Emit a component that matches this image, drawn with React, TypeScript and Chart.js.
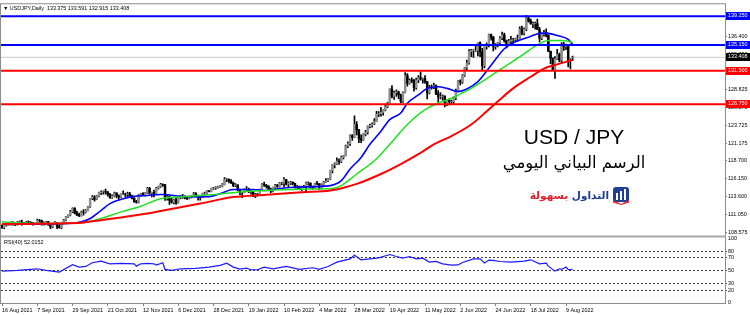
import React, { useEffect, useRef } from 'react';
import { Chart, registerables } from 'chart.js';

Chart.register(...registerables);

// ---------- data ----------
const xTickIndex = [0, 16, 32, 48, 64, 80, 96, 112, 128, 144, 160, 176, 192, 208, 224, 240, 256];
const xTickLabels = ['16 Aug 2021', '7 Sep 2021', '29 Sep 2021', '21 Oct 2021', '12 Nov 2021', '6 Dec 2021', '28 Dec 2021', '19 Jan 2022', '10 Feb 2022', '4 Mar 2022', '28 Mar 2022', '19 Apr 2022', '11 May 2022', '2 Jun 2022', '24 Jun 2022', '18 Jul 2022', '9 Aug 2022'];

const opens = [
  109.55, 109.23, 109.6, 109.77, 109.75, 109.78, 109.72, 109.68, 110.0, 110.05,
  109.84, 109.9, 110.02, 110.0, 109.92, 109.7, 109.83, 110.27, 110.25, 109.72,
  109.92, 110.05, 109.7, 109.35, 109.72, 109.95, 109.4, 109.23, 109.78, 110.3,
  110.75, 111.0, 111.5, 111.97, 111.3, 111.05, 110.95, 111.45, 111.4, 111.65,
  112.2, 113.35, 113.6, 113.25, 113.7, 114.2, 114.3, 114.35, 114.3, 113.95,
  113.5, 113.7, 114.15, 113.8, 113.55, 114.0, 114.0, 113.95, 114.05, 113.75,
  113.4, 112.95, 112.85, 113.9, 114.05, 113.9, 114.15, 114.8, 114.1, 114.25,
  114.0, 114.85, 115.1, 115.4, 115.35, 113.4, 113.6, 113.15, 112.8, 113.2,
  112.8, 113.45, 113.55, 113.7, 113.5, 113.4, 113.55, 113.7, 114.05, 113.7,
  113.7, 113.6, 114.1, 114.1, 114.45, 114.35, 114.8, 114.85, 114.95, 115.05,
  115.1, 115.35, 116.1, 116.1, 115.85, 115.55, 115.2, 115.3, 114.6, 114.2,
  114.2, 114.6, 114.6, 114.3, 114.35, 113.7, 113.95, 113.9, 114.65, 115.35,
  115.25, 115.1, 114.7, 114.4, 114.95, 115.25, 115.1, 115.55, 115.55, 116.05,
  115.4, 115.55, 115.65, 115.5, 114.95, 115.05, 114.75, 115.05, 115.05, 115.55,
  115.55, 115.0, 114.9, 115.5, 115.45, 114.8, 115.3, 115.7, 115.85, 116.1,
  117.3, 118.15, 118.3, 118.7, 118.6, 119.2, 119.45, 120.8, 121.15, 122.3,
  122.05, 123.85, 123.1, 121.85, 121.7, 122.5, 122.8, 123.6, 123.75, 123.95,
  124.3, 125.35, 125.4, 125.6, 125.9, 126.4, 126.95, 128.9, 127.85, 128.4,
  128.5, 128.1, 127.2, 128.4, 130.8, 129.7, 130.15, 130.1, 129.1, 130.2,
  130.55, 130.3, 130.4, 129.95, 128.35, 129.2, 129.1, 129.4, 128.2, 127.8,
  127.85, 127.9, 126.85, 127.3, 127.1, 127.1, 127.6, 128.7, 130.05, 129.9,
  130.85, 131.9, 132.6, 134.25, 134.4, 134.4, 134.4, 135.45, 134.2, 132.2,
  134.95, 135.05, 136.65, 136.25, 134.95, 135.2, 135.45, 136.15, 136.6, 135.75,
  135.2, 135.7, 135.85, 135.9, 136.05, 136.1, 137.45, 136.85, 137.4, 138.95,
  138.55, 138.15, 138.2, 138.2, 137.35, 136.1, 136.7, 136.95, 136.55, 134.25,
  133.3, 131.6, 133.2, 133.85, 133.0, 135.0, 134.95, 135.1, 132.9, 133.375,
];
const highs = [
  109.65, 109.8, 109.9, 110.0, 110.05, 110.1, 109.85, 110.1, 110.2, 110.3,
  110.0, 110.15, 110.2, 110.1, 110.0, 109.9, 110.45, 110.4, 110.3, 110.05,
  110.15, 110.15, 109.75, 109.8, 110.1, 109.95, 109.7, 109.85, 110.4, 110.8,
  111.05, 111.68, 112.05, 112.1, 111.6, 111.3, 111.6, 111.8, 111.8, 112.25,
  113.4, 113.8, 113.8, 113.8, 114.3, 114.45, 114.45, 114.7, 114.4, 114.1,
  113.9, 114.3, 114.2, 113.9, 114.05, 114.45, 114.15, 114.3, 114.25, 113.85,
  113.5, 113.1, 113.95, 114.1, 114.2, 114.2, 114.95, 114.95, 114.3, 114.55,
  114.95, 115.15, 115.52, 115.45, 115.35, 113.9, 113.75, 113.5, 113.3, 113.4,
  113.6, 113.8, 113.95, 113.7, 113.6, 113.7, 113.8, 114.25, 114.2, 113.85,
  113.75, 114.15, 114.3, 114.5, 114.5, 114.85, 114.95, 115.05, 115.15, 115.2,
  115.5, 116.35, 116.2, 116.15, 116.05, 115.7, 115.5, 115.3, 114.7, 114.3,
  114.75, 115.05, 114.85, 114.55, 114.35, 114.1, 114.1, 114.7, 115.5, 115.7,
  115.4, 115.2, 114.85, 115.0, 115.4, 115.4, 115.65, 115.7, 116.35, 116.1,
  115.75, 115.8, 115.75, 115.55, 115.25, 115.15, 115.15, 115.25, 115.7, 115.75,
  115.6, 115.15, 115.55, 115.8, 115.5, 115.45, 115.8, 116.2, 116.2, 117.35,
  118.2, 118.45, 119.15, 119.0, 119.4, 119.5, 120.95, 121.4, 122.4, 122.45,
  125.1, 124.3, 123.2, 122.4, 122.6, 123.05, 123.7, 123.95, 124.1, 124.7,
  125.75, 125.7, 126.3, 125.95, 126.65, 127.05, 128.95, 129.4, 128.6, 128.8,
  128.6, 128.2, 128.5, 131.25, 131.1, 130.35, 130.5, 130.3, 130.45, 130.8,
  131.35, 130.45, 130.8, 130.0, 129.45, 129.5, 129.75, 129.5, 128.7, 128.4,
  128.1, 127.95, 127.4, 127.5, 127.35, 127.8, 128.9, 130.1, 130.2, 130.95,
  132.0, 133.0, 134.5, 134.55, 134.5, 135.2, 135.45, 135.6, 134.7, 135.0,
  135.45, 136.7, 136.7, 136.4, 135.35, 135.55, 136.35, 137.0, 136.85, 135.85,
  135.95, 136.4, 136.1, 136.15, 136.55, 137.75, 137.85, 137.6, 139.38, 139.1,
  138.85, 138.4, 138.4, 138.85, 137.65, 136.8, 137.25, 137.45, 136.6, 134.3,
  133.3, 133.5, 134.55, 134.0, 135.5, 135.55, 135.3, 135.2, 133.2, 133.591,
];
const lows = [
  109.12, 109.1, 109.45, 109.6, 109.6, 109.6, 109.5, 109.6, 109.85, 109.6,
  109.7, 109.75, 109.9, 109.85, 109.6, 109.7, 109.8, 110.0, 109.6, 109.6,
  109.85, 109.55, 109.1, 109.25, 109.7, 109.1, 109.15, 109.1, 109.75, 110.2,
  110.7, 110.9, 111.35, 111.2, 110.95, 110.8, 110.85, 111.0, 111.3, 111.6,
  112.1, 113.2, 113.0, 113.2, 113.6, 113.9, 114.0, 114.0, 113.7, 113.4,
  113.4, 113.6, 113.45, 113.25, 113.5, 113.9, 113.6, 113.6, 113.65, 113.3,
  112.8, 112.7, 112.75, 113.7, 113.8, 113.75, 114.1, 114.0, 113.6, 113.6,
  113.95, 114.7, 114.95, 115.1, 113.1, 113.15, 112.55, 112.7, 112.6, 112.55,
  112.7, 113.3, 113.4, 113.3, 113.2, 113.3, 113.45, 113.6, 113.6, 113.15,
  113.15, 113.55, 113.95, 114.0, 114.3, 114.3, 114.65, 114.65, 114.85, 114.95,
  115.0, 115.3, 115.75, 115.6, 115.5, 115.05, 115.05, 114.45, 113.9, 113.5,
  114.15, 114.4, 114.2, 114.0, 113.65, 113.5, 113.7, 113.8, 114.6, 115.1,
  114.85, 114.6, 114.2, 114.3, 114.8, 114.95, 115.0, 115.3, 115.0, 115.25,
  114.95, 115.35, 115.3, 114.85, 114.8, 114.7, 114.5, 114.9, 114.4, 115.25,
  114.85, 114.7, 114.85, 115.35, 114.65, 114.8, 115.1, 115.65, 115.75, 116.05,
  117.0, 117.7, 118.2, 118.2, 118.45, 119.0, 119.4, 120.6, 120.9, 121.6,
  122.0, 122.4, 121.3, 121.3, 121.6, 122.25, 122.5, 123.4, 123.5, 123.85,
  124.3, 125.0, 125.05, 125.2, 125.8, 126.25, 126.9, 127.65, 127.45, 127.85,
  127.55, 126.95, 127.0, 128.35, 129.3, 129.6, 129.8, 128.6, 128.9, 129.8,
  130.15, 129.75, 129.7, 127.5, 128.2, 128.9, 128.95, 128.1, 127.05, 127.5,
  127.3, 126.36, 126.55, 126.65, 126.75, 126.85, 127.4, 128.6, 129.5, 129.7,
  130.7, 131.55, 132.45, 133.5, 133.4, 134.25, 133.6, 133.5, 131.5, 131.9,
  134.55, 134.9, 135.85, 134.3, 134.55, 134.9, 135.1, 135.9, 135.55, 134.75,
  135.1, 135.3, 135.3, 135.6, 135.65, 136.05, 136.6, 136.6, 137.2, 138.4,
  138.1, 137.6, 137.4, 137.35, 135.6, 135.9, 136.4, 136.3, 134.2, 132.5,
  131.6, 130.4, 133.1, 132.75, 132.55, 134.4, 134.5, 132.05, 131.75, 132.915,
];
const closes = [
  109.23, 109.6, 109.77, 109.75, 109.78, 109.72, 109.68, 110.0, 110.05, 109.84,
  109.9, 110.02, 110.0, 109.92, 109.7, 109.83, 110.27, 110.25, 109.72, 109.92,
  110.05, 109.7, 109.35, 109.72, 109.95, 109.4, 109.23, 109.78, 110.3, 110.75,
  111.0, 111.5, 111.97, 111.3, 111.05, 110.95, 111.45, 111.4, 111.65, 112.2,
  113.35, 113.6, 113.25, 113.7, 114.2, 114.3, 114.35, 114.3, 113.95, 113.5,
  113.7, 114.15, 113.8, 113.55, 114.0, 114.0, 113.95, 114.05, 113.75, 113.4,
  112.95, 112.85, 113.9, 114.05, 113.9, 114.15, 114.8, 114.1, 114.25, 114.0,
  114.85, 115.1, 115.4, 115.35, 113.4, 113.6, 113.15, 112.8, 113.2, 112.8,
  113.45, 113.55, 113.7, 113.5, 113.4, 113.55, 113.7, 114.05, 113.7, 113.7,
  113.6, 114.1, 114.1, 114.45, 114.35, 114.8, 114.85, 114.95, 115.05, 115.1,
  115.35, 116.1, 116.1, 115.85, 115.55, 115.2, 115.3, 114.6, 114.2, 114.2,
  114.6, 114.6, 114.3, 114.35, 113.7, 113.95, 113.9, 114.65, 115.35, 115.25,
  115.1, 114.7, 114.4, 114.95, 115.25, 115.1, 115.55, 115.55, 116.05, 115.4,
  115.55, 115.65, 115.5, 114.95, 115.05, 114.75, 115.05, 115.05, 115.55, 115.55,
  115.0, 114.9, 115.5, 115.45, 114.8, 115.3, 115.7, 115.85, 116.1, 117.3,
  118.15, 118.3, 118.7, 118.6, 119.2, 119.45, 120.8, 121.15, 122.3, 122.05,
  123.85, 123.1, 121.85, 121.7, 122.5, 122.8, 123.6, 123.75, 123.95, 124.3,
  125.35, 125.4, 125.6, 125.9, 126.4, 126.95, 128.9, 127.85, 128.4, 128.5,
  128.1, 127.2, 128.4, 130.8, 129.7, 130.15, 130.1, 129.1, 130.2, 130.55,
  130.3, 130.4, 129.95, 128.35, 129.2, 129.1, 129.4, 128.2, 127.8, 127.85,
  127.9, 126.85, 127.3, 127.1, 127.1, 127.6, 128.7, 130.05, 129.9, 130.85,
  131.9, 132.6, 134.25, 134.4, 134.4, 134.4, 135.45, 134.2, 132.2, 134.95,
  135.05, 136.65, 136.25, 134.95, 135.2, 135.45, 136.15, 136.6, 135.75, 135.2,
  135.7, 135.85, 135.9, 136.05, 136.1, 137.45, 136.85, 137.4, 138.95, 138.55,
  138.15, 138.2, 138.2, 137.35, 136.1, 136.7, 136.95, 136.55, 134.25, 133.3,
  131.6, 133.2, 133.85, 133.0, 135.0, 134.95, 135.1, 132.9, 133.0, 133.408,
];

// moving averages: [bar index, price]
const maBlue = [
  [0, 109.74], [14, 109.74], [30, 109.84], [36, 110.07], [40, 110.54], [45, 111.7], [49, 112.65], [55, 113.35],
  [60, 113.67], [66, 113.8], [72, 113.95], [75, 113.9], [81, 113.7], [90, 113.6], [94, 113.62], [99, 114.05],
  [105, 114.65], [114, 114.65], [120, 114.5], [126, 114.8], [136, 115.0], [149, 115.2], [154, 115.9], [158, 117.55],
  [163, 119.2], [167, 121.06], [172, 122.93], [176, 124.57], [181, 125.5], [184, 126.9], [189, 128.07], [193, 129.0],
  [198, 129.24], [202, 129.0], [207, 128.54], [211, 128.9], [216, 129.95], [222, 132.29], [228, 134.62], [232, 135.46],
  [239, 136.26], [245, 136.86], [248, 136.8], [252, 136.5], [257, 135.94], [259, 135.2],
];
const maGreen = [
  [0, 110.07], [8, 109.9], [22, 109.84], [36, 109.93], [45, 110.54], [54, 111.47], [63, 112.27], [72, 113.35],
  [81, 113.6], [90, 113.8], [99, 114.0], [108, 114.3], [120, 114.5], [136, 114.7], [149, 114.75], [154, 115.2],
  [161, 116.85], [169, 118.72], [176, 121.06], [184, 123.87], [192, 125.97], [198, 126.9], [204, 127.6], [210, 128.54],
  [213, 129.0], [219, 130.18], [228, 132.05], [236, 133.69], [243, 135.18], [248, 135.8], [254, 135.8], [259, 135.56],
];
const maRed = [
  [0, 109.74], [26, 109.84], [36, 109.93], [45, 110.3], [54, 110.68], [63, 111.1], [72, 111.6], [90, 112.65],
  [105, 113.57], [120, 113.9], [136, 114.27], [149, 114.5], [161, 115.45], [172, 116.85], [181, 118.26], [189, 119.66],
  [196, 121.06], [204, 122.23], [213, 123.87], [220, 125.74], [225, 127.14], [232, 129.0], [240, 130.65], [246, 131.81],
  [252, 132.4], [259, 133.05],
];
// RSI(40): [bar index, value]
const rsiValues = [
  [0, 49.4], [7, 50.5], [16, 53], [20, 50.5], [26, 47.9], [32, 59.2], [35, 55.6], [38, 56.6], [41, 62.3], [45, 64.8],
  [49, 60.7], [54, 61.5], [60, 60.7], [61, 57.1], [63, 60.7], [66, 61.5], [69, 60.7], [70, 58.7], [73, 62.3], [74, 52],
  [77, 50.5], [81, 53], [88, 53.5], [94, 55.6], [99, 58.2], [102, 61.7], [105, 55.6], [108, 52.6], [111, 54], [113, 51.5],
  [116, 51.5], [119, 55.6], [123, 53], [129, 56.6], [135, 52], [141, 54.6], [144, 52], [148, 56.6], [152, 63.3], [158, 68.4],
  [160, 74], [163, 66.9], [171, 70], [176, 75.1], [179, 72], [182, 69.4], [185, 72], [188, 68.4], [191, 69.4], [194, 63.3],
  [197, 64.3], [200, 60.7], [204, 58.7], [207, 59], [209, 62.8], [214, 68.4], [217, 68.4], [219, 62], [221, 66.5], [223, 66],
  [226, 64.3], [231, 63.3], [237, 64.8], [240, 66.9], [244, 60.7], [247, 61.7], [248, 57.1], [251, 49.4], [253, 53], [254, 52],
  [256, 55.6], [257, 51.5], [259, 52.0],
];

const blueLevels = [139.25, 135.15];
const redLevels = [131.5, 126.75];
const lastPrice = 133.408;
const priceTicks = [108.575, 111.05, 113.6, 116.15, 118.7, 121.175, 123.725, 126.275, 128.825, 131.375, 133.85, 136.4, 138.95];
const rsiTicks = [0, 20, 30, 50, 70, 80, 100];
const rsiLevels = [20, 30, 50, 70, 80];
const titleText = '\u25BC USDJPY,Daily  133.375 133.591 132.915 133.408';
const rsiText = 'RSI(40) 52.0152';

// ---------- view ----------
const X_MIN = -0.454;
const X_MAX = 328.17;
const SMALL_FONT = '"Liberation Sans", Arial, sans-serif';

const levelLine = (v: number, color: string, width: number, order: number) => ({
  type: 'line' as const,
  data: [{ x: X_MIN, y: v }, { x: X_MAX, y: v }],
  borderColor: color,
  borderWidth: width,
  pointRadius: 0,
  yAxisID: 'y',
  order,
});

const overlayPlugin = {
  id: 'mtOverlay',
  afterDraw(chart: any) {
    const { ctx, chartArea: a, scales } = chart;
    const ys = scales.y;
    ctx.save();
    ctx.strokeStyle = '#8c8c8c';
    ctx.lineWidth = 1;
    ctx.strokeRect(a.left - 0.5, a.top - 0.5, a.right - a.left + 1, a.bottom - a.top + 1);
    ctx.fillStyle = '#a8a8a8';
    ctx.fillRect(a.left, ys.bottom - 1, a.right - a.left + 1, 2);

    ctx.font = `5.4px ${SMALL_FONT}`;
    ctx.textBaseline = 'middle';
    ctx.textAlign = 'left';
    const boxes: [number, string][] = [
      ...blueLevels.map((v) => [v, '#0000ff'] as [number, string]),
      ...redLevels.map((v) => [v, '#ff0000'] as [number, string]),
      [lastPrice, '#000000'],
    ];
    for (const [v, c] of boxes) {
      const py = ys.getPixelForValue(v);
      ctx.fillStyle = c;
      ctx.fillRect(a.right + 1, Math.round(py) - 4, 24, 8);
      ctx.fillStyle = '#ffffff';
      ctx.fillText(v.toFixed(3), a.right + 3, Math.round(py));
    }
    ctx.fillStyle = '#000000';
    ctx.fillText(titleText, a.left + 2, a.top + 4);
    ctx.fillText(rsiText, a.left + 3, scales.rsi.top + 6);
    ctx.restore();
  },
};

export default function App() {
  const ref = useRef<HTMLCanvasElement>(null);

  useEffect(() => {
    document.body.style.margin = '0';
    const canvas = ref.current;
    if (!canvas) return;

    const wicks = highs.map((h, i) => ({ x: i, y: [lows[i], h] }));
    const bodies = opens.map((o, i) => ({ x: i, y: [o, closes[i]] }));
    const bodyColors = opens.map((o, i) => (closes[i] >= o ? '#8f8f8f' : '#000000'));
    const toPts = (arr: number[][]) => arr.map(([x, y]) => ({ x, y }));

    const chart = new Chart(canvas, {
      type: 'bar',
      data: {
        datasets: [
          ...blueLevels.map((v) => levelLine(v, '#0000ff', 2, 0)),
          ...redLevels.map((v) => levelLine(v, '#ff0000', 2, 0)),
          levelLine(lastPrice, '#c8c8c8', 1, 9),
          {
            type: 'line', data: toPts(maRed), borderColor: '#ff0000', borderWidth: 2, pointRadius: 0,
            cubicInterpolationMode: 'monotone', yAxisID: 'y', order: 1,
          },
          {
            type: 'line', data: toPts(maGreen), borderColor: '#22e022', borderWidth: 1.5, pointRadius: 0,
            cubicInterpolationMode: 'monotone', yAxisID: 'y', order: 1,
          },
          {
            type: 'line', data: toPts(maBlue), borderColor: '#0000ff', borderWidth: 1.6, pointRadius: 0,
            cubicInterpolationMode: 'monotone', yAxisID: 'y', order: 1,
          },
          {
            type: 'bar', data: bodies as any, backgroundColor: bodyColors, borderWidth: 0,
            barThickness: 1.8, grouped: false, yAxisID: 'y', order: 2,
          },
          {
            type: 'bar', data: wicks as any, backgroundColor: '#000000', borderWidth: 0,
            barThickness: 1, grouped: false, yAxisID: 'y', order: 3,
          },
          {
            type: 'line', data: toPts(rsiValues), borderColor: '#1a1aff', borderWidth: 1.2, pointRadius: 0,
            tension: 0, yAxisID: 'rsi', order: 1,
          },
        ] as any,
      },
      options: {
        responsive: false,
        animation: false,
        devicePixelRatio: 1,
        layout: { padding: { left: 1, top: 2, right: 0, bottom: 0 } },
        plugins: { legend: { display: false }, tooltip: { enabled: false }, title: { display: false } },
        elements: { point: { radius: 0 } },
        scales: {
          x: {
            type: 'linear',
            min: X_MIN,
            max: X_MAX,
            offset: false,
            afterBuildTicks: (s: any) => { s.ticks = xTickIndex.map((v) => ({ value: v })); },
            afterFit: (s: any) => { s.height = 12; },
            grid: { drawOnChartArea: false, drawTicks: true, tickLength: 3, color: '#808080', offset: false },
            border: { display: true, color: '#808080' },
            ticks: {
              autoSkip: false, maxRotation: 0, minRotation: 0, align: 'start', padding: 1,
              color: '#000', font: { family: SMALL_FONT, size: 5.4 },
              callback: (_v: any, i: number) => xTickLabels[i],
            },
          },
          y: {
            type: 'linear',
            axis: 'y',
            position: 'right',
            stack: 'panes',
            stackWeight: 234,
            min: 107.98,
            max: 140.94,
            afterBuildTicks: (s: any) => { s.ticks = priceTicks.map((v) => ({ value: v })); },
            afterFit: (s: any) => { s.width = 25; },
            grid: { drawOnChartArea: false, tickLength: 2, color: '#808080' },
            border: { display: true, color: '#808080' },
            ticks: {
              autoSkip: false, padding: 1, color: '#000', font: { family: SMALL_FONT, size: 5.4 },
              callback: (v: any) => Number(v).toFixed(3),
            },
          },
          rsi: {
            type: 'linear',
            axis: 'y',
            position: 'right',
            stack: 'panes',
            stackWeight: 67,
            min: 0,
            max: 103,
            afterBuildTicks: (s: any) => { s.ticks = rsiTicks.map((v) => ({ value: v })); },
            afterFit: (s: any) => { s.width = 25; },
            grid: {
              drawOnChartArea: true, tickLength: 2,
              color: (c: any) => (rsiLevels.includes(c.tick?.value) ? '#3a3a3a' : 'rgba(0,0,0,0)'),
            },
            border: { display: true, color: '#808080', dash: [2, 2] },
            ticks: {
              autoSkip: false, padding: 1, color: '#000', font: { family: SMALL_FONT, size: 5.4 },
              callback: (v: any) => String(v),
            },
          },
        },
      } as any,
      plugins: [overlayPlugin],
    });
    return () => chart.destroy();
  }, []);

  return (
    <div style={{ position: 'relative', width: 750, height: 315, background: '#ffffff', overflow: 'hidden' }}>
      <canvas ref={ref} width={750} height={315} style={{ display: 'block', width: 750, height: 315 }} />
      <div
        style={{
          position: 'absolute', left: 474, top: 126, width: 200, textAlign: 'center',
          font: '21px "Liberation Sans", Arial, sans-serif', lineHeight: '21px', color: '#000',
        }}
      >
        USD / JPY
      </div>
      <div
        dir="rtl"
        style={{
          position: 'absolute', left: 474, top: 152, width: 200, textAlign: 'center',
          font: '16.5px "DejaVu Sans", sans-serif', lineHeight: '22px', color: '#000',
        }}
      >
        الرسم البياني اليومي
      </div>
      <div
        dir="rtl"
        style={{
          position: 'absolute', left: 489, top: 187, width: 120, textAlign: 'right',
          font: 'bold 10.5px "DejaVu Sans", sans-serif', lineHeight: '16px', whiteSpace: 'nowrap',
        }}
      >
        <span style={{ color: '#1d3d8f' }}>التداول</span> <span style={{ color: '#e3202c' }}>بسهولة</span>
      </div>
      <svg style={{ position: 'absolute', left: 612, top: 186 }} width={18} height={19} viewBox="0 0 18 19">
        <rect x={1} y={1} width={16} height={15} rx={3} fill="#1f3f94" />
        <rect x={4} y={7} width={2} height={7} fill="#ffffff" />
        <rect x={8} y={5} width={2} height={9} fill="#ffffff" />
        <rect x={12} y={3} width={2} height={11} fill="#ffffff" />
        <path d="M1 14 L9 18 L17 14 L17 16.5 L9 19 L1 16.5 Z" fill="#e3202c" />
      </svg>
    </div>
  );
}
